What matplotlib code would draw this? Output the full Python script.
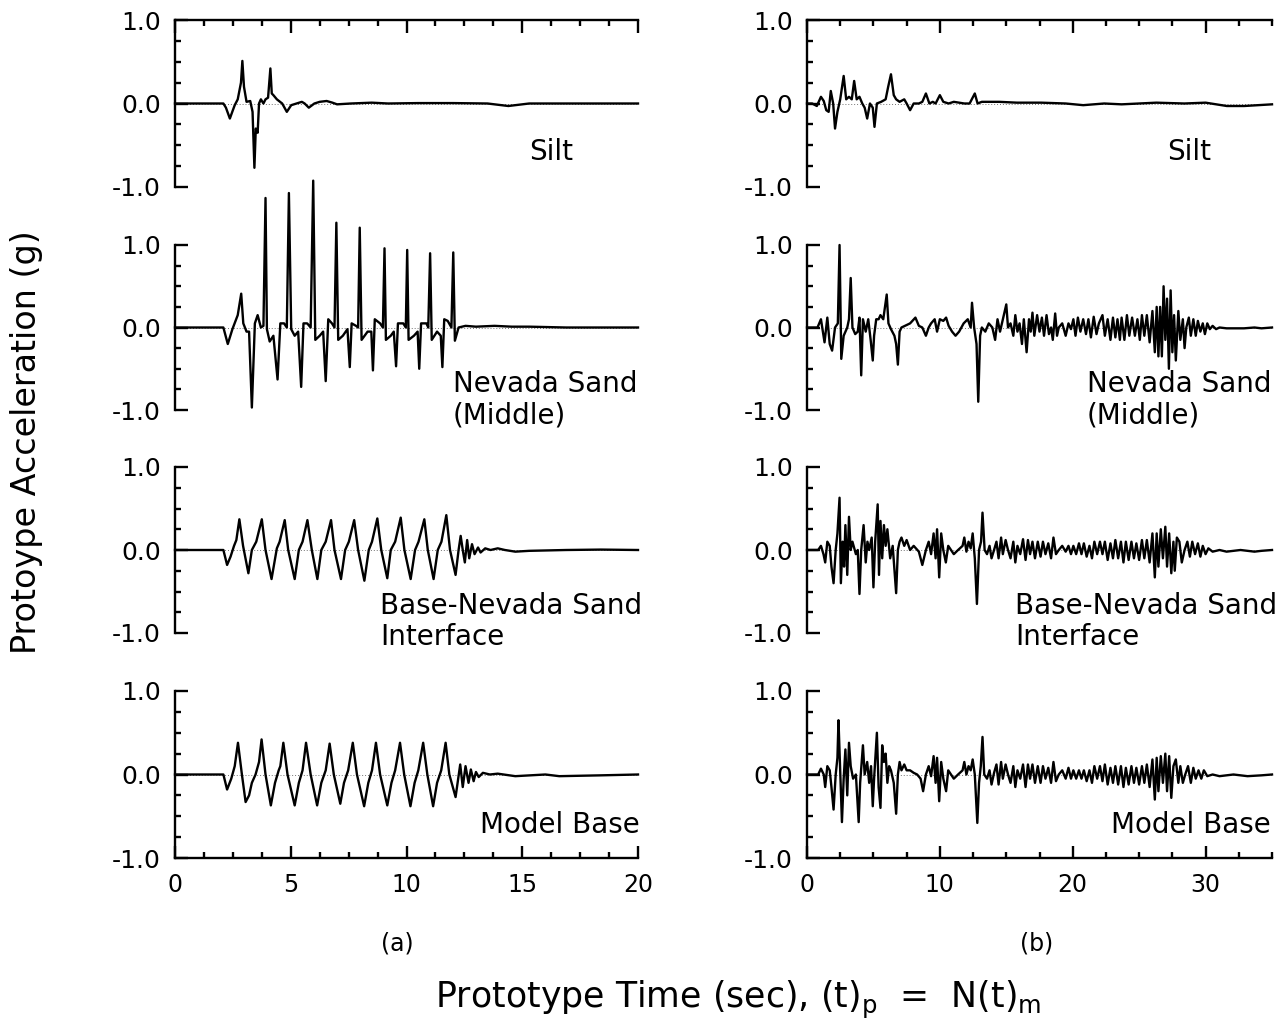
import matplotlib
matplotlib.use('Agg')
import matplotlib.pyplot as plt
from matplotlib.ticker import MultipleLocator, FixedLocator

plt.rcParams['font.family'] = ['DejaVu Sans']

# ---------------- data (time s, acceleration g) ----------------
a_silt = [(0, 0), (2.09, 0), (2.2, -0.05), (2.37, -0.18), (2.5, -0.08), (2.58, -0.02), (2.71, 0.05),
          (2.85, 0.25), (2.91, 0.51), (2.98, 0.2), (3.09, 0.02), (3.25, 0.03), (3.35, -0.1), (3.43, -0.77),
          (3.49, -0.3), (3.57, -0.35), (3.63, 0.0), (3.71, 0.05), (3.82, 0.0), (3.91, 0.05), (4.02, 0.07),
          (4.12, 0.42), (4.18, 0.12), (4.25, 0.1), (4.40, 0.05), (4.63, 0.0), (4.83, -0.1), (5.02, -0.02),
          (5.25, 0.0), (5.48, 0.02), (5.6, 0.0), (5.78, -0.05), (6.02, 0.0), (6.25, 0.02), (6.55, 0.03),
          (6.8, 0.01), (7.0, -0.01), (7.6, 0.0), (8.5, 0.01), (9.2, 0.0), (10.5, 0.005), (12, 0.005),
          (13.5, 0.0), (14.4, -0.03), (15.3, 0.0), (17, 0.0), (20, 0.0)]

a_nevada = [(0, 0), (2.09, 0), (2.28, -0.2), (2.48, -0.02), (2.71, 0.15), (2.86, 0.41), (2.95, 0.05),
            (3.09, -0.05), (3.2, -0.05), (3.32, -0.97), (3.45, 0.05), (3.57, 0.15), (3.71, 0.0), (3.82, 0.02),
            (3.91, 1.57), (3.97, -0.02), (4.09, -0.17), (4.25, -0.1), (4.43, -0.63), (4.55, 0.05), (4.71, 0.05),
            (4.83, 0.0), (4.92, 1.63), (5.02, -0.02), (5.17, -0.1), (5.32, -0.05), (5.45, -0.72), (5.55, 0.05),
            (5.71, 0.05), (5.86, 0.0), (5.97, 1.78), (6.06, -0.15), (6.25, -0.1), (6.4, -0.05), (6.51, -0.65),
            (6.62, 0.1), (6.78, 0.05), (6.89, 0.0), (6.97, 1.27), (7.05, -0.15), (7.25, -0.1), (7.45, -0.02),
            (7.55, -0.48), (7.63, 0.05), (7.82, 0.02), (7.91, 0.0), (7.98, 1.21), (8.06, -0.15), (8.32, -0.05),
            (8.48, -0.05), (8.55, -0.52), (8.63, 0.1), (8.86, 0.05), (8.98, 0.0), (9.05, 0.96), (9.11, -0.15),
            (9.32, -0.1), (9.45, -0.05), (9.55, -0.47), (9.63, 0.05), (9.86, 0.05), (9.97, 0.0), (10.03, 0.94),
            (10.09, -0.15), (10.32, -0.1), (10.48, -0.05), (10.55, -0.5), (10.63, 0.05), (10.86, 0.05),
            (10.94, 0.0), (11.02, 0.9), (11.09, -0.15), (11.32, -0.05), (11.48, -0.1), (11.55, -0.48),
            (11.63, 0.1), (11.78, 0.08), (11.94, 0.0), (12.02, 0.91), (12.09, -0.16), (12.25, 0.0),
            (12.55, 0.02), (13.0, 0.01), (13.8, 0.02), (14.55, 0.01), (15.3, 0.01), (16.1, 0.005),
            (16.9, 0.0), (20, 0.0)]

a_interface = [(0, 0), (2.09, 0), (2.25, -0.18), (2.4, -0.08), (2.55, 0.05), (2.65, 0.12), (2.78, 0.37),
               (2.94, 0.05), (3.17, -0.28), (3.32, 0.0), (3.51, 0.1), (3.75, 0.37), (3.91, 0.0), (4.17, -0.35),
               (4.4, 0.02), (4.52, 0.1), (4.74, 0.36), (4.89, 0.0), (5.17, -0.35), (5.35, 0.0), (5.51, 0.1),
               (5.72, 0.36), (5.91, 0.0), (6.15, -0.35), (6.32, 0.0), (6.51, 0.1), (6.74, 0.36), (6.89, 0.0),
               (7.17, -0.35), (7.35, 0.0), (7.51, 0.1), (7.74, 0.36), (7.91, 0.0), (8.18, -0.37), (8.37, 0.0),
               (8.51, 0.1), (8.74, 0.38), (8.91, 0.0), (9.17, -0.34), (9.32, 0.0), (9.51, 0.1), (9.75, 0.39),
               (9.91, 0.0), (10.18, -0.35), (10.37, 0.0), (10.52, 0.1), (10.77, 0.37), (10.92, 0.0),
               (11.17, -0.35), (11.35, 0.0), (11.51, 0.1), (11.72, 0.42), (11.88, 0.0), (12.12, -0.3),
               (12.25, 0.0), (12.34, 0.17), (12.43, 0.0), (12.52, -0.15), (12.62, 0.12), (12.71, -0.1),
               (12.83, 0.07), (12.94, -0.05), (13.09, 0.03), (13.2, -0.03), (13.4, 0.02), (13.63, 0.0),
               (13.94, 0.02), (14.25, 0.0), (14.7, -0.02), (15.3, -0.01), (16.9, 0.0), (18.4, 0.005), (20, 0.0)]

a_base = [(0, 0), (2.09, 0), (2.25, -0.18), (2.43, -0.05), (2.58, 0.1), (2.72, 0.38), (2.89, 0.0),
          (3.05, -0.33), (3.2, -0.25), (3.32, -0.1), (3.48, 0.0), (3.63, 0.15), (3.74, 0.42), (3.91, 0.0),
          (4.14, -0.37), (4.32, -0.1), (4.48, 0.05), (4.55, 0.1), (4.68, 0.38), (4.86, 0.0), (5.17, -0.37),
          (5.35, -0.1), (5.51, 0.05), (5.66, 0.38), (5.86, 0.0), (6.14, -0.37), (6.32, -0.1), (6.51, 0.05),
          (6.68, 0.37), (6.86, 0.0), (7.14, -0.35), (7.3, -0.1), (7.48, 0.05), (7.68, 0.38), (7.86, 0.0),
          (8.17, -0.38), (8.35, -0.1), (8.51, 0.05), (8.68, 0.38), (8.86, 0.0), (9.17, -0.37), (9.35, -0.1),
          (9.51, 0.05), (9.72, 0.38), (9.9, 0.0), (10.17, -0.38), (10.35, -0.1), (10.51, 0.05), (10.72, 0.38),
          (10.9, 0.0), (11.15, -0.38), (11.32, -0.1), (11.5, 0.05), (11.69, 0.38), (11.85, 0.0), (12.12, -0.27),
          (12.32, 0.12), (12.43, -0.15), (12.55, 0.1), (12.68, -0.1), (12.78, 0.06), (12.9, -0.08),
          (13.0, 0.03), (13.12, -0.03), (13.3, 0.02), (13.6, 0.0), (13.94, 0.01), (14.7, -0.02), (16.0, 0.0),
          (16.6, -0.02), (18.4, -0.01), (20, 0.0)]

b_silt = [(0, 0), (0.39, 0.0), (0.74, -0.03), (1.05, 0.08), (1.26, 0.03), (1.45, -0.08), (1.63, -0.1),
          (1.79, 0.15), (1.97, 0.0), (2.11, -0.3), (2.29, -0.1), (2.5, 0.05), (2.76, 0.33), (2.95, 0.05),
          (3.16, 0.08), (3.37, 0.05), (3.55, 0.27), (3.74, 0.05), (3.95, 0.08), (4.16, 0.0), (4.34, -0.05),
          (4.53, -0.18), (4.74, 0.0), (4.95, -0.05), (5.08, -0.28), (5.26, 0.0), (5.58, 0.02), (5.92, 0.05),
          (6.11, 0.2), (6.32, 0.35), (6.53, 0.1), (6.71, 0.05), (6.97, 0.02), (7.32, 0.05), (7.5, 0.0),
          (7.76, -0.08), (8.03, 0.0), (8.42, 0.0), (8.68, 0.02), (8.95, 0.12), (9.21, 0.0), (9.47, 0.02),
          (9.68, 0.0), (10.0, 0.1), (10.26, 0.02), (10.66, 0.0), (11.05, 0.02), (11.84, 0.0), (12.24, 0.0),
          (12.63, 0.12), (12.84, 0.0), (13.16, 0.02), (14.47, 0.02), (15.79, 0.01), (17.63, 0.01),
          (19.47, 0.0), (20.79, -0.02), (22.37, 0.0), (23.68, -0.01), (26.3, 0.01), (28.4, 0.0), (30.0, 0.01),
          (31.6, -0.03), (32.9, -0.03), (35.0, -0.01)]

b_nevada = [(0, 0), (0.79, 0.0), (1.05, 0.1), (1.32, -0.18), (1.53, 0.12), (1.71, -0.2), (1.89, -0.28),
            (2.11, 0.0), (2.32, 0.05), (2.45, 1.0), (2.58, -0.38), (2.76, -0.1), (3.03, 0.0), (3.16, 0.1),
            (3.29, 0.6), (3.42, 0.0), (3.63, -0.08), (3.82, -0.05), (3.95, 0.12), (4.08, -0.58), (4.21, 0.1),
            (4.42, -0.05), (4.61, 0.1), (4.79, -0.15), (4.95, -0.4), (5.05, -0.1), (5.21, 0.1), (5.39, 0.1),
            (5.53, 0.15), (5.74, 0.1), (5.87, 0.25), (6.0, 0.4), (6.13, 0.05), (6.32, -0.02), (6.58, -0.1),
            (6.71, -0.2), (6.84, -0.45), (6.97, -0.05), (7.11, 0.0), (7.37, 0.02), (7.76, 0.05), (8.16, 0.12),
            (8.42, 0.02), (8.68, 0.0), (8.95, -0.1), (9.16, 0.0), (9.34, 0.05), (9.61, 0.1), (9.79, -0.05),
            (10.0, 0.1), (10.26, 0.08), (10.47, 0.12), (10.66, 0.02), (10.92, -0.05), (11.18, -0.1),
            (11.45, -0.05), (11.79, 0.05), (12.1, 0.1), (12.32, 0.0), (12.42, 0.3), (12.58, 0.0),
            (12.76, -0.2), (12.89, -0.9), (13.03, -0.1), (13.16, 0.0), (13.42, -0.05), (13.68, 0.05),
            (13.95, 0.0), (14.16, -0.15), (14.34, 0.1), (14.53, -0.05), (14.74, 0.1), (15.0, 0.28),
            (15.13, 0.0), (15.32, 0.05), (15.53, -0.1), (15.68, 0.15), (15.84, -0.05), (16.0, 0.05),
            (16.18, -0.2), (16.32, 0.1), (16.53, -0.3), (16.71, 0.1), (16.84, -0.05), (16.97, 0.18),
            (17.11, -0.1), (17.32, 0.15), (17.5, -0.05), (17.68, 0.12), (17.84, -0.1), (18.03, 0.15),
            (18.21, -0.08), (18.37, 0.0), (18.5, -0.15), (18.68, 0.17), (18.82, -0.1), (18.95, 0.0),
            (19.21, 0.05), (19.47, -0.1), (19.68, 0.05), (19.87, -0.02), (20.05, 0.1), (20.21, -0.1),
            (20.39, 0.12), (20.58, -0.05), (20.79, 0.1), (21.0, -0.08), (21.18, 0.1), (21.37, -0.12),
            (21.58, 0.13), (21.79, -0.08), (21.97, 0.05), (22.24, 0.15), (22.42, -0.1), (22.63, 0.1),
            (22.84, -0.15), (23.03, 0.12), (23.21, -0.12), (23.37, 0.1), (23.55, -0.15), (23.68, 0.12),
            (23.89, -0.15), (24.08, 0.15), (24.26, -0.1), (24.47, 0.12), (24.68, -0.1), (24.87, 0.1),
            (25.05, -0.15), (25.21, 0.15), (25.39, -0.1), (25.58, 0.15), (25.79, -0.18), (26.0, 0.2),
            (26.18, -0.3), (26.32, 0.25), (26.45, -0.35), (26.58, 0.25), (26.71, -0.35), (26.84, 0.5),
            (26.97, -0.15), (27.1, 0.35), (27.24, -0.5), (27.37, 0.45), (27.5, -0.3), (27.63, 0.15),
            (27.76, -0.4), (27.95, 0.2), (28.1, -0.15), (28.29, 0.1), (28.42, -0.25), (28.55, 0.0),
            (28.74, 0.12), (28.89, -0.1), (29.08, 0.1), (29.26, -0.1), (29.42, 0.08), (29.61, -0.05),
            (29.79, 0.05), (29.95, -0.08), (30.13, 0.05), (30.32, -0.02), (30.53, 0.02), (30.79, -0.02),
            (31.05, 0.0), (31.58, -0.01), (32.89, -0.01), (33.68, 0.0), (34.21, -0.01), (35.0, 0.0)]

b_interface = [(0, 0), (0.53, 0.0), (0.84, 0.0), (1.05, 0.05), (1.24, -0.05), (1.37, -0.15), (1.53, 0.1),
               (1.71, 0.05), (1.84, -0.2), (2.0, -0.4), (2.16, 0.0), (2.29, 0.2), (2.45, 0.63), (2.55, -0.4),
               (2.68, 0.1), (2.79, -0.2), (2.89, 0.3), (3.03, -0.3), (3.16, 0.4), (3.29, 0.0), (3.42, 0.1),
               (3.68, -0.05), (3.82, 0.0), (3.95, -0.53), (4.08, 0.0), (4.26, 0.3), (4.42, -0.15), (4.55, 0.1),
               (4.68, 0.0), (4.87, 0.15), (5.0, -0.45), (5.13, 0.1), (5.32, 0.55), (5.42, -0.3), (5.53, 0.35),
               (5.66, -0.1), (5.79, 0.3), (5.92, 0.05), (6.05, 0.25), (6.26, -0.1), (6.45, 0.05), (6.71, -0.52),
               (6.84, 0.0), (6.97, 0.1), (7.11, 0.15), (7.32, 0.05), (7.5, 0.12), (7.76, 0.0), (8.03, 0.05),
               (8.42, -0.02), (8.68, -0.18), (8.95, 0.0), (9.16, 0.1), (9.34, -0.05), (9.53, 0.2), (9.68, -0.1),
               (9.79, 0.25), (9.95, -0.33), (10.1, 0.2), (10.26, 0.0), (10.45, -0.15), (10.63, 0.05),
               (10.84, 0.0), (11.05, -0.05), (11.37, 0.0), (11.71, 0.05), (11.84, 0.15), (12.0, -0.02),
               (12.16, 0.1), (12.32, 0.02), (12.47, 0.2), (12.63, -0.1), (12.79, -0.65), (12.95, 0.0),
               (13.1, 0.1), (13.21, 0.45), (13.37, 0.0), (13.55, -0.05), (13.74, 0.05), (13.89, -0.1),
               (14.08, 0.0), (14.26, 0.1), (14.42, -0.1), (14.61, 0.15), (14.74, -0.05), (14.95, 0.12),
               (15.13, 0.0), (15.32, -0.1), (15.53, 0.1), (15.68, -0.15), (15.84, 0.05), (16.05, -0.05),
               (16.26, 0.13), (16.45, -0.12), (16.63, 0.12), (16.79, -0.05), (16.97, 0.1), (17.16, -0.1),
               (17.37, 0.1), (17.58, -0.08), (17.76, 0.1), (17.95, -0.05), (18.16, 0.08), (18.37, -0.1),
               (18.55, 0.15), (18.74, -0.05), (18.95, 0.0), (19.21, 0.05), (19.47, -0.02), (19.68, 0.05),
               (19.87, -0.05), (20.05, 0.05), (20.26, -0.05), (20.47, 0.08), (20.66, -0.05), (20.84, 0.08),
               (21.05, -0.08), (21.26, 0.05), (21.45, -0.1), (21.63, 0.1), (21.84, -0.05), (22.05, 0.1),
               (22.24, -0.05), (22.42, 0.1), (22.63, -0.12), (22.84, 0.08), (23.03, -0.1), (23.21, 0.12),
               (23.42, -0.1), (23.63, 0.1), (23.82, -0.15), (24.0, 0.1), (24.21, -0.12), (24.42, 0.1),
               (24.61, -0.1), (24.79, 0.08), (25.0, -0.12), (25.21, 0.12), (25.39, -0.1), (25.58, 0.12),
               (25.79, -0.15), (26.0, 0.2), (26.18, -0.33), (26.32, 0.2), (26.45, -0.2), (26.63, 0.25),
               (26.79, -0.1), (26.97, 0.28), (27.1, -0.2), (27.26, 0.2), (27.42, -0.28), (27.58, 0.1),
               (27.68, -0.25), (27.84, 0.15), (28.03, 0.1), (28.21, -0.15), (28.42, 0.0), (28.63, 0.1),
               (28.82, -0.08), (29.0, 0.1), (29.21, -0.05), (29.42, 0.08), (29.61, -0.08), (29.79, 0.05),
               (30.0, -0.05), (30.21, 0.02), (30.53, -0.02), (31.05, 0.0), (31.58, -0.02), (32.63, 0.0),
               (33.68, -0.02), (34.21, -0.01), (35.0, 0.0)]

b_base = [(0, 0), (0.84, 0.0), (1.05, 0.07), (1.26, 0.0), (1.37, -0.15), (1.53, 0.1), (1.71, 0.05),
          (1.84, -0.15), (2.0, -0.42), (2.16, 0.0), (2.29, 0.2), (2.37, 0.65), (2.53, -0.1), (2.63, -0.57),
          (2.76, -0.05), (2.89, 0.3), (3.03, -0.25), (3.16, 0.38), (3.29, 0.1), (3.47, -0.05), (3.68, 0.0),
          (3.89, -0.57), (4.0, -0.1), (4.21, 0.35), (4.34, 0.0), (4.53, 0.15), (4.68, -0.1), (4.82, 0.1),
          (4.95, -0.38), (5.05, -0.05), (5.26, 0.5), (5.39, -0.15), (5.53, -0.4), (5.66, 0.35), (5.79, 0.15),
          (5.92, 0.25), (6.05, -0.1), (6.18, 0.1), (6.32, 0.05), (6.53, -0.1), (6.71, -0.47), (6.84, 0.0),
          (6.97, 0.15), (7.11, 0.05), (7.32, 0.12), (7.5, 0.05), (7.76, 0.05), (8.03, 0.02), (8.29, 0.0),
          (8.55, -0.05), (8.74, -0.2), (8.95, 0.0), (9.16, 0.1), (9.34, -0.02), (9.53, 0.22), (9.68, -0.1),
          (9.79, 0.2), (9.95, -0.32), (10.1, 0.15), (10.26, -0.05), (10.47, -0.2), (10.63, 0.05),
          (10.84, 0.0), (11.05, -0.05), (11.37, 0.0), (11.71, 0.05), (11.84, 0.15), (12.0, 0.0),
          (12.16, 0.1), (12.32, 0.05), (12.47, 0.18), (12.63, 0.0), (12.82, -0.58), (12.95, -0.1),
          (13.08, 0.1), (13.21, 0.45), (13.34, 0.0), (13.55, -0.05), (13.74, 0.05), (13.89, -0.12),
          (14.08, 0.02), (14.26, 0.12), (14.42, -0.12), (14.61, 0.15), (14.74, -0.05), (14.95, 0.12),
          (15.13, 0.0), (15.32, -0.1), (15.53, 0.1), (15.68, -0.15), (15.84, 0.05), (16.05, -0.05),
          (16.26, 0.12), (16.45, -0.15), (16.63, 0.12), (16.79, -0.05), (16.97, 0.12), (17.16, -0.1),
          (17.37, 0.1), (17.58, -0.1), (17.76, 0.1), (17.95, -0.05), (18.16, 0.08), (18.37, -0.1),
          (18.55, 0.15), (18.74, -0.08), (18.95, 0.0), (19.21, 0.05), (19.47, -0.05), (19.68, 0.08),
          (19.87, -0.05), (20.05, 0.05), (20.26, -0.05), (20.47, 0.05), (20.66, -0.05), (20.84, 0.05),
          (21.05, -0.08), (21.26, 0.05), (21.45, -0.1), (21.63, 0.1), (21.84, -0.05), (22.05, 0.1),
          (22.24, -0.08), (22.42, 0.12), (22.63, -0.12), (22.84, 0.08), (23.03, -0.1), (23.21, 0.1),
          (23.42, -0.12), (23.63, 0.1), (23.82, -0.15), (24.0, 0.08), (24.21, -0.12), (24.42, 0.1),
          (24.61, -0.1), (24.79, 0.08), (25.0, -0.12), (25.21, 0.1), (25.39, -0.1), (25.58, 0.12),
          (25.79, -0.15), (26.0, 0.18), (26.18, -0.3), (26.32, 0.2), (26.45, -0.2), (26.63, 0.22),
          (26.79, -0.1), (26.97, 0.25), (27.1, -0.2), (27.26, 0.22), (27.42, -0.28), (27.58, 0.1),
          (27.76, 0.18), (27.95, -0.1), (28.1, 0.1), (28.29, -0.1), (28.47, 0.0), (28.68, 0.1),
          (28.89, -0.1), (29.08, 0.08), (29.26, -0.05), (29.47, 0.05), (29.68, -0.05), (29.87, 0.05),
          (30.13, -0.02), (30.53, 0.0), (31.05, -0.02), (32.1, 0.0), (33.16, -0.02), (34.21, -0.01),
          (35.0, 0.0)]

panel_labels = ["Silt", "Nevada Sand\n(Middle)", "Base-Nevada Sand\nInterface", "Model Base"]
yticks = [-1.0, 0.0, 1.0]
ytick_labels = ["-1.0", "0.0", "1.0"]
col_a_traces = [a_silt, a_nevada, a_interface, a_base]
col_b_traces = [b_silt, b_nevada, b_interface, b_base]

# ---------------- layout ----------------
W, H = 1284, 1030
fig = plt.figure(figsize=(W / 100, H / 100), dpi=100)

rows_px = [(20, 187), (245, 410), (467, 633), (691, 858)]
cols = [
    dict(x0=175, x1=638, xmax=20, major=5, minor=1.25, traces=col_a_traces,
         txt=[(0.765, 0.21), (0.60, 0.06), (0.443, 0.07), (0.659, 0.2)]),
    dict(x0=807, x1=1272, xmax=35, major=10, minor=2.5, traces=col_b_traces,
         txt=[(0.774, 0.21), (0.602, 0.06), (0.447, 0.07), (0.654, 0.2)]),
]

FS_TICK = 18
FS_X = 17
FS_LBL = 20
for col in cols:
    for r, (top, bot) in enumerate(rows_px):
        ax = fig.add_axes([col['x0'] / W, 1 - bot / H, (col['x1'] - col['x0']) / W, (bot - top) / H])
        ax.set_xlim(0, col['xmax'])
        ax.set_ylim(-1, 1)
        data = col['traces'][r]
        t = [p[0] for p in data]
        g = [p[1] for p in data]
        ax.axhline(0, color='0.45', lw=0.7, ls=(0, (1, 2)), zorder=1)
        ax.plot(t, g, color='black', lw=1.7, clip_on=False, zorder=3)
        for s in ax.spines.values():
            s.set_linewidth(1.7)
        ax.spines['right'].set_visible(False)
        ax.spines['top'].set_visible(r == 0)
        ax.spines['bottom'].set_visible(r == 3)
        ax.yaxis.set_major_locator(FixedLocator(yticks))
        ax.set_yticklabels(ytick_labels)
        ax.yaxis.set_minor_locator(MultipleLocator(0.25))
        ax.tick_params(axis='y', which='major', direction='in', length=9, width=1.7,
                       labelsize=FS_TICK, pad=10)
        ax.tick_params(axis='y', which='minor', direction='in', length=4.5, width=1.7)
        ax.xaxis.set_major_locator(MultipleLocator(col['major']))
        ax.xaxis.set_minor_locator(MultipleLocator(col['minor']))
        if r == 0:
            ax.tick_params(axis='x', which='both', direction='in', top=True, bottom=False,
                           labeltop=False, labelbottom=False, width=1.7)
            ax.tick_params(axis='x', which='major', length=9)
            ax.tick_params(axis='x', which='minor', length=4.5)
        elif r == 3:
            ax.tick_params(axis='x', which='both', direction='in', top=False, bottom=True,
                           width=1.7, labelsize=FS_X, pad=11)
            ax.tick_params(axis='x', which='major', length=9)
            ax.tick_params(axis='x', which='minor', length=4.5)
        else:
            ax.tick_params(axis='x', which='both', top=False, bottom=False,
                           labeltop=False, labelbottom=False)
        tx, ty = col['txt'][r]
        ax.text(tx, ty, panel_labels[r], transform=ax.transAxes, ha='left', va='center',
                fontsize=FS_LBL, linespacing=1.15)

fig.text(397 / W, 1 - 943 / H, "(a)", ha='center', va='center', fontsize=FS_X)
fig.text(1037 / W, 1 - 943 / H, "(b)", ha='center', va='center', fontsize=FS_X)
fig.text(738 / W, 1 - 1000 / H, r"Prototype Time (sec), (t)$_\mathregular{p}$  =  N(t)$_\mathregular{m}$",
         ha='center', va='center', fontsize=25)
fig.text(27 / W, 1 - 442 / H, "Protoype Acceleration (g)", rotation=90, ha='center', va='center',
         fontsize=24)

fig.savefig("out.png", dpi=100)
